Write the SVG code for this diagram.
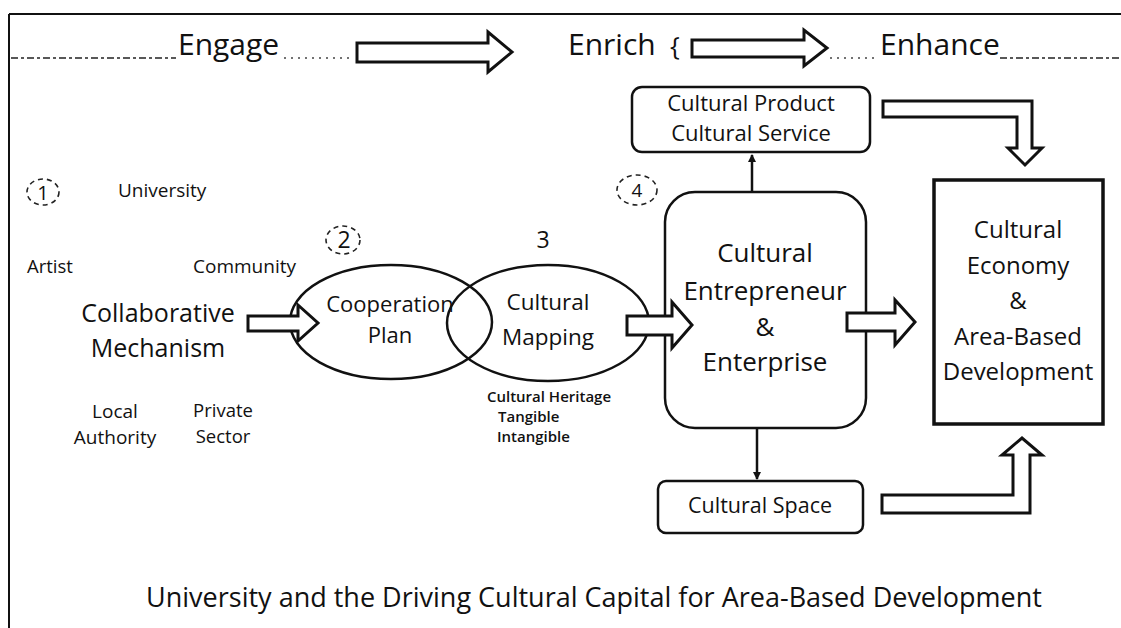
<svg xmlns="http://www.w3.org/2000/svg" width="1121" height="628" viewBox="0 0 1121 628">
<style>
text{font-family:"Open Sans","DejaVu Sans",sans-serif;fill:#111;}
.box{fill:#fff;stroke:#111;stroke-width:2.5;}
.blk{fill:#fff;stroke:#111;stroke-width:3;stroke-linejoin:miter;}
.ln{stroke:#111;stroke-width:2.5;fill:none;}
.dash{stroke:#222;stroke-width:1.5;fill:none;stroke-dasharray:7 3 3 3;}
.dot{stroke:#444;stroke-width:1.3;fill:none;stroke-dasharray:2 5;}
.circ{fill:none;stroke:#222;stroke-width:1.6;stroke-dasharray:5 4;}
.mid{text-anchor:middle;}
</style>
<defs>
<marker id="ah" markerWidth="8" markerHeight="8" refX="7" refY="4" orient="auto" markerUnits="userSpaceOnUse">
<path d="M0,0 L8,4 L0,8 Z" fill="#111"/>
</marker>
</defs>
<rect x="0" y="0" width="1121" height="628" fill="#fff"/>

<g id="frame">
<line x1="9" y1="14" x2="1121" y2="14" stroke="#111" stroke-width="2"/>
<line x1="9" y1="14" x2="9" y2="628" stroke="#111" stroke-width="2"/>
</g>

<g id="stages">
<line class="dash" x1="11" y1="58" x2="176" y2="58"/>
<text x="178" y="55" font-size="30">Engage</text>
<line class="dot" x1="284" y1="58" x2="352" y2="58"/>
<text x="568" y="55" font-size="30">Enrich</text>
<text x="670" y="55" font-size="26">{</text>
<line class="dot" x1="830" y1="58" x2="876" y2="58"/>
<text x="880" y="55" font-size="30">Enhance</text>
<line class="dash" x1="1000" y1="58" x2="1121" y2="58"/>
</g>

<g id="actors">
<ellipse class="circ" cx="43" cy="192" rx="16" ry="13"/>
<text x="43" y="200" font-size="20" class="mid">1</text>
<text x="118" y="197" font-size="19">University</text>
<text x="27" y="273" font-size="18.5">Artist</text>
<text x="193" y="273" font-size="19">Community</text>
<text x="115" y="418" font-size="19" class="mid">Local</text>
<text x="115" y="444" font-size="19" class="mid">Authority</text>
<text x="223" y="417" font-size="18.5" class="mid">Private</text>
<text x="223" y="443" font-size="18.5" class="mid">Sector</text>
</g>

<g id="collaborative">
<text x="158" y="322" font-size="25" class="mid">Collaborative</text>
<text x="158" y="357" font-size="25" class="mid">Mechanism</text>
</g>

<g id="cooperation">
<ellipse cx="391" cy="322" rx="101" ry="57" fill="none" stroke="#111" stroke-width="2.5"/>
<ellipse class="circ" cx="343" cy="240" rx="17" ry="14"/>
<text x="344" y="248" font-size="23" class="mid">2</text>
<text x="390" y="312" font-size="22" class="mid">Cooperation</text>
<text x="390" y="343" font-size="22" class="mid">Plan</text>
</g>

<g id="mapping">
<ellipse cx="548" cy="323" rx="101" ry="58" fill="none" stroke="#111" stroke-width="2.5"/>
<text x="543" y="248" font-size="23" class="mid">3</text>
<text x="548" y="310" font-size="22.5" class="mid">Cultural</text>
<text x="548" y="345" font-size="22.5" class="mid">Mapping</text>
<text x="549" y="402" font-size="15" class="mid" font-weight="600">Cultural Heritage</text>
<text x="498" y="422" font-size="15" font-weight="600">Tangible</text>
<text x="497" y="442" font-size="15" font-weight="600">Intangible</text>
</g>

<g id="product">
<rect class="box" x="632" y="87" width="238" height="65" rx="10"/>
<text x="751" y="111" font-size="22" class="mid">Cultural Product</text>
<text x="751" y="141" font-size="22" class="mid">Cultural Service</text>
</g>

<g id="entrepreneur">
<ellipse class="circ" cx="637" cy="190" rx="20" ry="15"/>
<text x="637" y="197" font-size="19" class="mid">4</text>
<rect class="box" x="665" y="192" width="201" height="236" rx="30"/>
<text x="765" y="262" font-size="26" class="mid">Cultural</text>
<text x="765" y="300" font-size="26" class="mid">Entrepreneur</text>
<text x="765" y="336" font-size="26" class="mid">&amp;</text>
<text x="765" y="371" font-size="26" class="mid">Enterprise</text>
</g>

<g id="space">
<rect class="box" x="658" y="481" width="205" height="52" rx="8"/>
<text x="760" y="513" font-size="21.5" class="mid">Cultural Space</text>
</g>

<g id="economy">
<rect x="934" y="180" width="169" height="244" fill="#fff" stroke="#111" stroke-width="3.5"/>
<text x="1018" y="238" font-size="24" class="mid">Cultural</text>
<text x="1018" y="274" font-size="24" class="mid">Economy</text>
<text x="1018" y="309" font-size="24" class="mid">&amp;</text>
<text x="1018" y="345" font-size="24" class="mid">Area-Based</text>
<text x="1018" y="380" font-size="24" class="mid">Development</text>
</g>

<g id="title">
<text x="594" y="607" font-size="27" class="mid">University and the Driving Cultural Capital for Area-Based Development</text>
</g>

<g id="connectors">
<path class="blk" d="M357,43 H488 V32 L512,52 L488,72 V62 H357 Z"/>
<path class="blk" d="M692,40 H804 V30 L827,48 L804,66 V57 H692 Z"/>
<path class="blk" d="M248,316 H298 V305 L318,323 L298,341 V331 H248 Z"/>
<path class="blk" d="M627,316 H672 V302 L692,325 L672,348 V335 H627 Z"/>
<path class="blk" d="M847,313 H895 V300 L915,322 L895,345 V331 H847 Z"/>
<path class="blk" d="M883,101 H1032 V148 H1042 L1025,165 L1008,148 H1017 V117 H883 Z"/>
<path class="blk" d="M882,495 H1013 V455 H1002 L1022,438 L1042,455 H1030 V513 H882 Z"/>
<line class="ln" x1="752" y1="192" x2="752" y2="155" marker-end="url(#ah)"/>
<line class="ln" x1="757" y1="428" x2="757" y2="479" marker-end="url(#ah)"/>
</g>
</svg>
